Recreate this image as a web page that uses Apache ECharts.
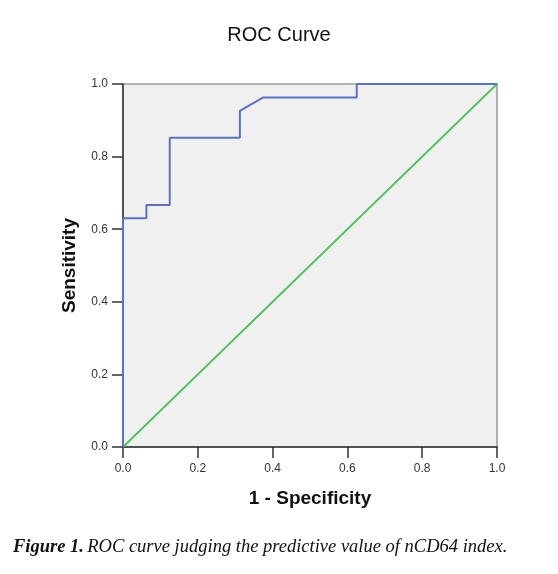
<!DOCTYPE html>
<html>
<head>
<meta charset="utf-8">
<script src="https://cdn.jsdelivr.net/npm/echarts@6/dist/echarts.min.js"></script>
<style>html,body{margin:0;padding:0;background:#fff;}#c{width:558px;height:574px;}</style>
</head>
<body>
<div id="c"></div>
<script>
const rocX = [0, 0, 0.0625, 0.0625, 0.125, 0.125, 0.3125, 0.3125, 0.375, 0.625, 0.625, 1];
const rocY = [0, 0.630, 0.630, 0.667, 0.667, 0.852, 0.852, 0.926, 0.963, 0.963, 1, 1];
const refX = [0, 1];
const refY = [0, 1];
const tickLabels = ['0.0', '0.2', '0.4', '0.6', '0.8', '1.0'];

const chart = echarts.init(document.getElementById('c'), null, {renderer: 'canvas'});
const axisCommon = {
  type: 'value', min: 0, max: 1, interval: 0.2,
  axisLine: {show: true, lineStyle: {color: '#333', width: 1.5}},
  axisTick: {show: true, length: 11, lineStyle: {color: '#333', width: 1.5}},
  splitLine: {show: false},
  axisLabel: {color: '#333', fontSize: 12, fontFamily: 'Arial, Liberation Sans, sans-serif',
    formatter: v => tickLabels[Math.round(v / 0.2)]},
  nameTextStyle: {color: '#111', fontSize: 19, fontWeight: 'bold', fontFamily: 'Arial, Liberation Sans, sans-serif'}
};
chart.setOption({
  animation: false,
  title: {
    text: 'ROC Curve', left: 'center', top: 20,
    textStyle: {fontSize: 20, fontWeight: 'normal', color: '#111', fontFamily: 'Arial, Liberation Sans, sans-serif'}
  },
  grid: {left: 123, top: 84, right: 61, bottom: 127, show: true, backgroundColor: '#f0f0f0', borderColor: '#999', borderWidth: 1.5},
  xAxis: Object.assign({}, axisCommon, {
    name: '1 - Specificity', nameLocation: 'middle', nameGap: 42,
    axisLabel: Object.assign({}, axisCommon.axisLabel, {margin: 16})
  }),
  yAxis: Object.assign({}, axisCommon, {
    name: 'Sensitivity', nameLocation: 'middle', nameGap: 44, nameRotate: 90,
    axisLabel: Object.assign({}, axisCommon.axisLabel, {margin: 15})
  }),
  graphic: [{
    type: 'text', left: 13, top: 538,
    style: {
      text: '{b|Figure 1.} {i|ROC curve judging the predictive value of nCD64 index.}',
      rich: {
        b: {fontFamily: 'Liberation Serif, Times New Roman, serif', fontStyle: 'italic', fontWeight: 'bold', fontSize: 18.5, fill: '#111'},
        i: {fontFamily: 'Liberation Serif, Times New Roman, serif', fontStyle: 'italic', fontSize: 18.5, fill: '#111'}
      }
    }
  }],
  series: [
    {type: 'line', data: refX.map((x, i) => [x, refY[i]]), showSymbol: false, clip: false,
     lineStyle: {color: '#4dc35a', width: 1.8}, z: 2},
    {type: 'line', data: rocX.map((x, i) => [x, rocY[i]]), showSymbol: false, clip: false,
     lineStyle: {color: '#5a72c6', width: 2}, z: 3}
  ]
});
</script>
</body>
</html>
